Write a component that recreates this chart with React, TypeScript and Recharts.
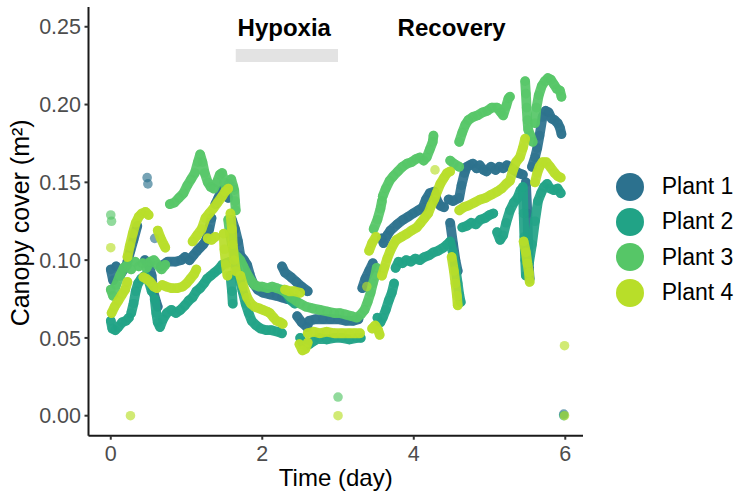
import React from 'react';
import { ScatterChart, Scatter, XAxis, YAxis, ReferenceArea, ReferenceDot, Legend } from 'recharts';

type Pt = [number, number];

const plantNames = ['Plant 1', 'Plant 2', 'Plant 3', 'Plant 4'];
const plantColors = ['#2C718E', '#21A386', '#56C667', '#B8DE29'];
const xTicks = [0, 2, 4, 6];
const yTicks = [0, 0.05, 0.1, 0.15, 0.2, 0.25];
const phaseLabels = [
  { text: 'Hypoxia', x: 2.29, y: 0.2443 },
  { text: 'Recovery', x: 4.5, y: 0.2443 },
];
const hypoxiaBar = { x1: 1.65, x2: 3.0, y1: 0.2273, y2: 0.2357 };

const plant1: Pt[][] = [
  [[0, 0.094], [0.03, 0.087], [0.07, 0.096], [0.12, 0.09], [0.17, 0.094], [0.21, 0.097]],
  [[0.22, 0.099], [0.26, 0.106], [0.3, 0.113], [0.35, 0.122]],
  [[0.48, 0.153]],
  [[0.49, 0.149]],
  [[0.45, 0.1], [0.5, 0.097], [0.54, 0.09], [0.56, 0.08], [0.6, 0.073], [0.62, 0.07]],
  [[0.58, 0.114]],
  [[0.66, 0.096], [0.75, 0.099], [0.85, 0.099], [0.93, 0.1], [0.98, 0.102], [1.04, 0.1], [1.09, 0.103], [1.14, 0.106], [1.18, 0.108], [1.22, 0.11], [1.26, 0.113], [1.3, 0.12], [1.33, 0.127]],
  [[1.38, 0.136], [1.42, 0.14], [1.47, 0.145], [1.52, 0.143], [1.55, 0.14]],
  [[1.6, 0.126], [1.64, 0.12], [1.68, 0.112], [1.71, 0.103], [1.76, 0.1], [1.8, 0.097], [1.84, 0.09], [1.88, 0.085], [1.94, 0.081], [2.01, 0.079], [2.1, 0.078], [2.19, 0.077], [2.26, 0.076], [2.33, 0.075], [2.43, 0.075]],
  [[2.26, 0.096], [2.3, 0.092], [2.38, 0.089], [2.45, 0.086], [2.52, 0.083], [2.6, 0.08]],
  [[2.46, 0.064], [2.52, 0.06], [2.59, 0.057], [2.62, 0.061], [2.7, 0.062], [2.8, 0.062], [2.9, 0.062], [3.0, 0.062], [3.1, 0.061], [3.2, 0.061], [3.27, 0.062]],
  [[3.32, 0.082], [3.36, 0.088], [3.41, 0.093], [3.46, 0.098]],
  [[3.58, 0.114], [3.6, 0.111], [3.65, 0.116], [3.69, 0.119], [3.78, 0.123], [3.86, 0.126], [3.93, 0.128], [3.99, 0.13], [4.06, 0.132], [4.12, 0.134], [4.16, 0.139], [4.21, 0.143], [4.27, 0.144], [4.31, 0.138], [4.35, 0.135], [4.4, 0.134]],
  [[4.46, 0.139], [4.52, 0.138], [4.6, 0.14], [4.63, 0.148], [4.67, 0.156], [4.7, 0.16], [4.74, 0.161], [4.78, 0.162], [4.83, 0.159], [4.87, 0.161], [4.92, 0.158], [4.96, 0.157], [5.02, 0.16], [5.08, 0.158], [5.13, 0.16], [5.18, 0.159], [5.23, 0.161], [5.27, 0.16], [5.32, 0.158], [5.38, 0.156], [5.44, 0.155]],
  [[4.48, 0.124], [4.52, 0.11], [4.55, 0.1], [4.58, 0.093]],
  [[5.48, 0.15], [5.5, 0.13], [5.51, 0.11], [5.52, 0.095], [5.53, 0.088]],
  [[5.56, 0.16], [5.6, 0.166], [5.63, 0.172], [5.66, 0.18], [5.7, 0.192], [5.74, 0.196], [5.78, 0.195], [5.82, 0.191], [5.86, 0.19], [5.9, 0.188], [5.93, 0.185], [5.95, 0.181]],
  [[5.98, 0.001]],
];

const plant2: Pt[][] = [
  [[0, 0.061], [0.02, 0.056], [0.06, 0.055], [0.1, 0.057], [0.15, 0.06], [0.2, 0.061], [0.24, 0.063]],
  [[0.27, 0.066], [0.3, 0.072], [0.33, 0.08], [0.36, 0.085], [0.4, 0.088], [0.45, 0.09], [0.5, 0.087], [0.54, 0.08]],
  [[0.58, 0.075], [0.6, 0.066], [0.62, 0.06], [0.65, 0.057], [0.69, 0.062], [0.74, 0.066], [0.8, 0.068], [0.86, 0.066], [0.92, 0.068], [0.98, 0.071], [1.03, 0.074], [1.08, 0.076], [1.13, 0.08], [1.18, 0.082], [1.23, 0.085], [1.27, 0.088], [1.32, 0.09], [1.37, 0.092], [1.42, 0.094], [1.47, 0.097], [1.52, 0.098], [1.57, 0.099], [1.62, 0.099], [1.66, 0.095], [1.7, 0.088], [1.74, 0.08], [1.78, 0.072], [1.82, 0.066], [1.86, 0.061], [1.92, 0.058], [1.98, 0.056], [2.05, 0.055], [2.12, 0.055], [2.2, 0.054], [2.26, 0.053]],
  [[1.58, 0.09], [1.6, 0.08], [1.61, 0.072]],
  [[2.29, 0.081], [2.33, 0.078], [2.38, 0.074], [2.43, 0.072]],
  [[2.5, 0.05], [2.53, 0.047], [2.57, 0.045], [2.62, 0.046], [2.68, 0.048], [2.75, 0.05], [2.85, 0.049], [2.95, 0.05], [3.05, 0.05], [3.15, 0.049], [3.25, 0.05], [3.3, 0.05]],
  [[3.52, 0.063], [3.56, 0.06], [3.59, 0.063], [3.63, 0.068], [3.67, 0.074], [3.71, 0.079], [3.74, 0.085]],
  [[3.76, 0.095], [3.8, 0.099], [3.85, 0.098], [3.9, 0.1], [3.96, 0.099], [4.02, 0.101], [4.08, 0.1], [4.14, 0.102], [4.2, 0.103], [4.26, 0.105], [4.32, 0.106], [4.39, 0.108], [4.44, 0.11], [4.48, 0.112], [4.52, 0.104], [4.55, 0.095], [4.58, 0.085], [4.6, 0.078], [4.62, 0.073]],
  [[4.64, 0.121], [4.7, 0.122], [4.76, 0.124], [4.82, 0.123], [4.88, 0.126], [4.94, 0.127], [5.0, 0.129], [5.05, 0.13]],
  [[5.1, 0.118], [5.14, 0.113], [5.18, 0.116], [5.22, 0.124], [5.27, 0.132], [5.32, 0.137], [5.37, 0.14], [5.41, 0.145]],
  [[5.44, 0.147], [5.45, 0.13], [5.46, 0.115], [5.47, 0.1], [5.48, 0.09]],
  [[5.52, 0.098], [5.56, 0.11], [5.6, 0.125], [5.64, 0.138], [5.68, 0.143], [5.72, 0.147], [5.76, 0.149], [5.8, 0.146], [5.85, 0.145], [5.9, 0.146], [5.94, 0.143]],
  [[5.98, 0.0]],
];

const plant3: Pt[][] = [
  [[0, 0.129]],
  [[0.01, 0.125]],
  [[0, 0.081], [0.03, 0.077], [0.07, 0.084], [0.12, 0.09], [0.17, 0.095], [0.22, 0.097], [0.27, 0.094], [0.32, 0.099], [0.37, 0.096], [0.42, 0.098], [0.47, 0.095], [0.52, 0.099], [0.57, 0.1], [0.62, 0.097], [0.67, 0.094], [0.72, 0.097]],
  [[0.78, 0.136], [0.84, 0.137], [0.9, 0.14], [0.96, 0.143], [1.01, 0.148], [1.06, 0.152], [1.11, 0.156], [1.15, 0.163], [1.18, 0.168], [1.21, 0.163], [1.24, 0.156], [1.28, 0.15], [1.32, 0.147], [1.36, 0.146], [1.4, 0.15], [1.44, 0.155], [1.47, 0.156], [1.5, 0.15], [1.53, 0.145], [1.56, 0.149], [1.59, 0.152], [1.62, 0.147]],
  [[1.63, 0.145], [1.64, 0.138], [1.65, 0.132]],
  [[1.55, 0.126], [1.57, 0.118], [1.6, 0.11], [1.63, 0.104], [1.67, 0.102], [1.71, 0.1], [1.75, 0.096], [1.8, 0.091], [1.85, 0.087], [1.9, 0.084], [1.95, 0.083], [2.0, 0.083], [2.07, 0.082], [2.13, 0.083], [2.19, 0.082], [2.25, 0.081], [2.32, 0.079], [2.38, 0.076], [2.44, 0.074], [2.5, 0.072], [2.58, 0.07], [2.66, 0.069], [2.76, 0.068], [2.86, 0.067], [2.95, 0.066], [3.02, 0.066], [3.1, 0.065], [3.18, 0.064], [3.25, 0.063], [3.3, 0.065], [3.35, 0.068], [3.39, 0.073], [3.43, 0.079], [3.46, 0.085], [3.49, 0.09], [3.51, 0.095]],
  [[3.0, 0.012]],
  [[3.47, 0.12], [3.52, 0.126], [3.56, 0.133], [3.58, 0.138]],
  [[3.59, 0.141], [3.63, 0.146], [3.68, 0.151], [3.73, 0.154], [3.79, 0.157], [3.85, 0.16], [3.91, 0.162], [3.97, 0.163], [4.03, 0.165], [4.08, 0.166], [4.13, 0.164], [4.17, 0.166], [4.21, 0.171], [4.25, 0.176], [4.26, 0.18]],
  [[4.48, 0.164], [4.53, 0.162], [4.6, 0.16]],
  [[4.6, 0.176], [4.64, 0.182], [4.68, 0.187], [4.72, 0.19], [4.78, 0.192], [4.84, 0.193], [4.91, 0.195], [4.97, 0.196], [5.03, 0.198], [5.1, 0.198], [5.15, 0.195], [5.18, 0.193], [5.22, 0.199], [5.25, 0.204], [5.27, 0.205]],
  [[5.47, 0.215], [5.48, 0.207], [5.49, 0.198], [5.5, 0.19], [5.51, 0.184], [5.54, 0.18], [5.57, 0.176]],
  [[5.6, 0.188], [5.62, 0.198], [5.65, 0.206], [5.69, 0.212], [5.73, 0.215], [5.77, 0.217], [5.81, 0.216], [5.85, 0.213], [5.89, 0.21], [5.93, 0.209], [5.95, 0.205]],
];

const plant4: Pt[][] = [
  [[0, 0.108]],
  [[0.26, 0.0]],
  [[0.01, 0.066], [0.05, 0.07], [0.1, 0.074], [0.15, 0.078], [0.19, 0.081], [0.22, 0.086]],
  [[0.22, 0.102], [0.25, 0.109], [0.29, 0.117], [0.33, 0.124], [0.37, 0.128], [0.41, 0.13], [0.46, 0.131], [0.5, 0.129]],
  [[0.43, 0.089], [0.47, 0.088], [0.52, 0.086], [0.57, 0.083], [0.61, 0.082]],
  [[0.62, 0.119], [0.66, 0.114], [0.7, 0.11], [0.72, 0.108]],
  [[0.68, 0.084], [0.73, 0.083], [0.8, 0.082], [0.88, 0.082], [0.95, 0.083], [1.0, 0.085], [1.05, 0.088], [1.1, 0.091], [1.13, 0.094]],
  [[1.08, 0.112], [1.14, 0.116], [1.2, 0.12], [1.25, 0.127], [1.3, 0.13], [1.35, 0.133], [1.41, 0.137], [1.47, 0.141], [1.51, 0.144], [1.55, 0.146]],
  [[1.28, 0.114], [1.33, 0.113], [1.38, 0.115]],
  [[1.49, 0.117], [1.5, 0.107], [1.52, 0.097], [1.54, 0.09]],
  [[1.58, 0.13], [1.6, 0.12], [1.61, 0.11], [1.63, 0.1], [1.65, 0.093]],
  [[1.71, 0.09], [1.75, 0.083], [1.8, 0.076], [1.85, 0.072], [1.9, 0.07], [1.96, 0.069], [2.01, 0.068], [2.06, 0.067], [2.1, 0.066], [2.15, 0.063], [2.19, 0.061], [2.24, 0.06], [2.27, 0.059]],
  [[2.3, 0.081], [2.36, 0.08], [2.42, 0.08], [2.5, 0.079]],
  [[2.49, 0.046], [2.53, 0.042], [2.57, 0.043], [2.6, 0.047]],
  [[2.6, 0.053], [2.68, 0.054], [2.76, 0.053], [2.85, 0.054], [2.95, 0.053], [3.05, 0.053], [3.15, 0.053], [3.22, 0.053], [3.29, 0.053]],
  [[3.0, 0.0]],
  [[3.45, 0.056], [3.49, 0.058], [3.53, 0.055], [3.55, 0.052]],
  [[3.38, 0.083]],
  [[3.41, 0.106], [3.45, 0.111], [3.5, 0.115]],
  [[3.58, 0.09], [3.61, 0.095], [3.65, 0.101], [3.69, 0.106], [3.73, 0.11], [3.77, 0.113], [3.84, 0.115], [3.91, 0.117], [3.97, 0.119], [4.04, 0.121], [4.09, 0.124], [4.14, 0.127], [4.19, 0.13], [4.23, 0.135], [4.27, 0.139], [4.3, 0.143], [4.35, 0.149], [4.4, 0.153], [4.44, 0.156], [4.48, 0.157]],
  [[4.28, 0.158]],
  [[4.5, 0.102], [4.53, 0.093], [4.55, 0.085], [4.57, 0.077], [4.58, 0.071]],
  [[4.6, 0.132], [4.66, 0.134], [4.72, 0.135], [4.8, 0.137], [4.88, 0.139], [4.95, 0.14], [5.02, 0.142], [5.1, 0.144], [5.16, 0.146], [5.22, 0.149], [5.27, 0.151], [5.31, 0.158], [5.35, 0.163], [5.4, 0.166], [5.44, 0.172], [5.47, 0.178]],
  [[5.45, 0.112], [5.48, 0.105], [5.5, 0.098], [5.52, 0.092], [5.53, 0.086]],
  [[5.6, 0.15], [5.63, 0.156], [5.66, 0.16], [5.7, 0.163], [5.75, 0.163], [5.8, 0.16], [5.86, 0.156], [5.9, 0.154], [5.94, 0.153]],
  [[5.99, 0.045]],
  [[5.99, 0.0]],
];

const plantSegments = [plant1, plant2, plant3, plant4];

const FONT = '"Liberation Sans", Arial, Helvetica, sans-serif';

const makeDot = (color: string) => (props: any) => (
  <circle cx={props.cx} cy={props.cy} r={4.8} fill={color} fillOpacity={0.65} />
);

const LegendContent = () => (
  <div style={{ fontFamily: FONT }}>
    {plantNames.map((n, i) => (
      <div key={n} style={{ display: 'flex', alignItems: 'center', height: 35.3 }}>
        <span
          style={{
            width: 28,
            height: 28,
            borderRadius: '50%',
            background: plantColors[i],
            display: 'inline-block',
            flex: '0 0 auto',
          }}
        />
        <span style={{ marginLeft: 17.7, fontSize: 23, color: '#000', whiteSpace: 'nowrap' }}>{n}</span>
      </div>
    ))}
  </div>
);

export default function App() {
  const series: React.ReactNode[] = [];
  plantSegments.forEach((segs, pi) => {
    const color = plantColors[pi];
    segs.forEach((seg, si) => {
      const data = seg.map(([x, y]) => ({ x, y }));
      series.push(
        <Scatter
          key={`p${pi}-s${si}`}
          name={plantNames[pi]}
          data={data}
          fill={color}
          shape={makeDot(color)}
          line={
            seg.length > 1
              ? { stroke: color, strokeWidth: 9.8, strokeLinecap: 'round', strokeLinejoin: 'round', strokeOpacity: 0.93 }
              : false
          }
          legendType="none"
          isAnimationActive={false}
        />
      );
    });
  });

  return (
    <div style={{ position: 'absolute', left: 0, top: 0, width: 741, height: 497, background: '#fff' }}>
      <ScatterChart width={741} height={497} margin={{ top: 7, right: 158, bottom: 0, left: 0 }}>
        <XAxis
          type="number"
          dataKey="x"
          domain={[-0.294, 6.234]}
          ticks={xTicks}
          allowDataOverflow
          height={61.3}
          tickSize={4}
          tickMargin={6.5}
          axisLine={{ stroke: '#1a1a1a', strokeWidth: 2 }}
          tickLine={{ stroke: '#333', strokeWidth: 2 }}
          tick={{ fill: '#4D4D4D', fontSize: 21.5, fontFamily: FONT }}
          label={{
            content: (p: any) => {
              const vb = p.viewBox;
              return (
                <text
                  x={vb.x + vb.width / 2}
                  y={vb.y + 50.5}
                  textAnchor="middle"
                  fontSize={24}
                  fontFamily={FONT}
                  fill="#000"
                >
                  Time (day)
                </text>
              );
            },
          }}
        />
        <YAxis
          type="number"
          dataKey="y"
          domain={[-0.01285, 0.2627]}
          ticks={yTicks}
          allowDataOverflow
          width={88.5}
          tickSize={4}
          tickMargin={3.5}
          tickFormatter={(v: number) => v.toFixed(2)}
          axisLine={{ stroke: '#1a1a1a', strokeWidth: 2 }}
          tickLine={{ stroke: '#333', strokeWidth: 2 }}
          tick={{ fill: '#4D4D4D', fontSize: 21.5, fontFamily: FONT }}
          label={{
            content: (p: any) => {
              const vb = p.viewBox;
              const cx = vb.x + 29;
              const cy = vb.y + vb.height / 2 + 1.5;
              return (
                <text
                  x={cx}
                  y={cy}
                  transform={`rotate(-90, ${cx}, ${cy})`}
                  textAnchor="middle"
                  fontSize={25}
                  fontFamily={FONT}
                  fill="#000"
                >
                  Canopy cover (m²)
                </text>
              );
            },
          }}
        />
        <ReferenceArea
          x1={hypoxiaBar.x1}
          x2={hypoxiaBar.x2}
          y1={hypoxiaBar.y1}
          y2={hypoxiaBar.y2}
          fill="#E3E3E3"
          fillOpacity={1}
          stroke="none"
          ifOverflow="visible"
        />
        {phaseLabels.map((l) => (
          <ReferenceDot
            key={l.text}
            x={l.x}
            y={l.y}
            r={0}
            fill="none"
            stroke="none"
            ifOverflow="visible"
            label={{
              content: (p: any) => {
                const vb = p.viewBox;
                return (
                  <text
                    x={vb.x + vb.width / 2}
                    y={vb.y + vb.height / 2}
                    textAnchor="middle"
                    fontSize={24}
                    fontWeight="bold"
                    fontFamily={FONT}
                    fill="#000"
                  >
                    {l.text}
                  </text>
                );
              },
            }}
          />
        ))}
        {series}
        <Legend
          layout="vertical"
          align="center"
          verticalAlign="middle"
          content={LegendContent}
          wrapperStyle={{ left: 616, top: 169, width: 125 }}
        />
      </ScatterChart>
    </div>
  );
}
